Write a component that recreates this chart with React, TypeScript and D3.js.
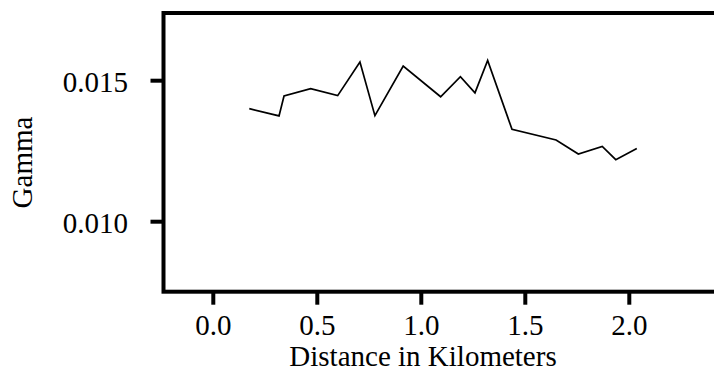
import React, { useEffect, useRef } from "react";
import * as d3 from "d3";

const distances = [
  0.173, 0.316, 0.34, 0.468, 0.598, 0.705, 0.777, 0.913, 1.093, 1.188, 1.258,
  1.319, 1.436, 1.648, 1.755, 1.87, 1.935, 2.036,
];
const gammas = [
  0.01401, 0.01375, 0.01446, 0.01472, 0.01447, 0.01566, 0.01376, 0.01552,
  0.01443, 0.01514, 0.01457, 0.01572, 0.01328, 0.0129, 0.0124, 0.01267,
  0.0122, 0.0126,
];
const xTicks = [0, 0.5, 1.0, 1.5, 2.0];
const yTicks = [0.01, 0.015];

export default function App() {
  const svgRef = useRef<SVGSVGElement>(null);

  useEffect(() => {
    document.body.style.margin = "0";
    if (!svgRef.current) return;
    const svg = d3.select(svgRef.current);
    svg.selectAll("*").remove();

    const left = 163.5;
    const top = 13;
    const bottom = 291.7;
    const right = 740; // box runs off the right edge

    // scales measured from the tick positions
    const x = d3.scaleLinear().domain([0, 2]).range([213.3, 629.3]);
    const y = d3.scaleLinear().domain([0.01, 0.015]).range([221.7, 80.7]);

    const font = "Liberation Serif";

    // data line
    const line = d3
      .line<number>()
      .x((d, i) => x(distances[i]))
      .y((d) => y(d));
    svg
      .append("path")
      .datum(gammas)
      .attr("d", line)
      .attr("fill", "none")
      .attr("stroke", "#000")
      .attr("stroke-width", 1.7)
      .attr("stroke-linejoin", "miter");

    // frame
    svg
      .append("rect")
      .attr("x", left)
      .attr("y", top)
      .attr("width", right - left)
      .attr("height", bottom - top)
      .attr("fill", "none")
      .attr("stroke", "#000")
      .attr("stroke-width", 4);

    // x ticks
    const xg = svg.append("g");
    xTicks.forEach((t) => {
      xg.append("line")
        .attr("x1", x(t))
        .attr("x2", x(t))
        .attr("y1", bottom)
        .attr("y2", bottom + 13)
        .attr("stroke", "#000")
        .attr("stroke-width", 4);
      xg.append("text")
        .attr("x", x(t))
        .attr("y", 335)
        .attr("text-anchor", "middle")
        .style("font-family", font)
        .style("font-size", "29px")
        .text(d3.format(".1f")(t));
    });

    // y ticks
    const yg = svg.append("g");
    yTicks.forEach((t) => {
      yg.append("line")
        .attr("x1", left - 13)
        .attr("x2", left)
        .attr("y1", y(t))
        .attr("y2", y(t))
        .attr("stroke", "#000")
        .attr("stroke-width", 4);
      yg.append("text")
        .attr("x", 128)
        .attr("y", y(t) + 11)
        .attr("text-anchor", "end")
        .style("font-family", font)
        .style("font-size", "29px")
        .text(d3.format(".3f")(t));
    });

    // axis labels
    svg
      .append("text")
      .attr("x", 423)
      .attr("y", 366)
      .attr("text-anchor", "middle")
      .style("font-family", font)
      .style("font-size", "29px")
      .text("Distance in Kilometers");
    svg
      .append("text")
      .attr("transform", `translate(32,162.5) rotate(-90)`)
      .attr("text-anchor", "middle")
      .style("font-family", font)
      .style("font-size", "29px")
      .text("Gamma");
  }, []);

  return (
    <svg
      ref={svgRef}
      width={714}
      height={373}
      style={{ display: "block", background: "#fff" }}
    />
  );
}
